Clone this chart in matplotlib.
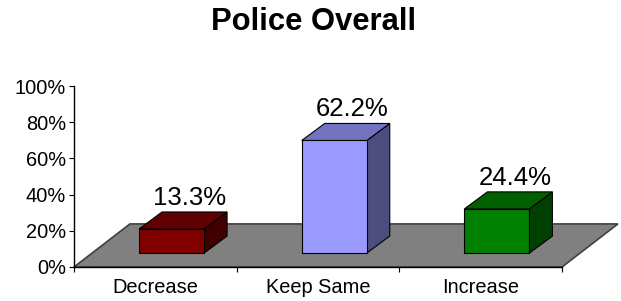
import numpy as np
import matplotlib.pyplot as plt
from matplotlib.patches import Polygon

# data
categories = ['Decrease', 'Keep Same', 'Increase']
values = [13.3, 62.2, 24.4]
labels = ['13.3%', '62.2%', '24.4%']
front_colors = ['#800000', '#9999ff', '#008000']
top_colors = ['#600000', '#7373bf', '#006000']
side_colors = ['#400000', '#4d4d80', '#004000']

plt.rcParams['font.family'] = ['Liberation Sans', 'DejaVu Sans']

fig = plt.figure(figsize=(6.21, 3.01), dpi=100)
ax = fig.add_axes([74/621, 34/301, 488/621, 181/301])
ax.set_xlim(0, 3)
ax.set_ylim(0, 100)

# 3d look: floor depth and bar depth (in data units)
floor_dx, floor_dy = 0.344, 23.8
bar_dx, bar_dy = 0.141, 9.4
base = 7.7
bar_w = 0.40
bar_off = 0.40

floor = Polygon([(0, 0), (3, 0), (3 + floor_dx, floor_dy), (floor_dx, floor_dy)],
                closed=True, facecolor='#808080', edgecolor='#404040', lw=1.2,
                clip_on=False, zorder=1)
ax.add_patch(floor)

for i, v in enumerate(values):
    x0 = i + bar_off
    x1 = x0 + bar_w
    y0 = base
    y1 = base + v
    side = Polygon([(x1, y0), (x1 + bar_dx, y0 + bar_dy), (x1 + bar_dx, y1 + bar_dy), (x1, y1)],
                   closed=True, facecolor=side_colors[i], edgecolor='black', lw=0.8,
                   clip_on=False, zorder=3)
    top = Polygon([(x0, y1), (x1, y1), (x1 + bar_dx, y1 + bar_dy), (x0 + bar_dx, y1 + bar_dy)],
                  closed=True, facecolor=top_colors[i], edgecolor='black', lw=0.8,
                  clip_on=False, zorder=3)
    front = Polygon([(x0, y0), (x1, y0), (x1, y1), (x0, y1)],
                    closed=True, facecolor=front_colors[i], edgecolor='black', lw=0.8,
                    clip_on=False, zorder=4)
    ax.add_patch(side)
    ax.add_patch(top)
    ax.add_patch(front)
    ax.text(x0 + bar_w / 2 + 0.11, y1 + bar_dy + 1.2, labels[i],
            ha='center', va='bottom', fontsize=18.5, color='black', zorder=5)

ax.spines['top'].set_visible(False)
ax.spines['right'].set_visible(False)
ax.spines['left'].set_linewidth(1.0)
ax.spines['bottom'].set_linewidth(1.0)
ax.spines['left'].set_zorder(6)
ax.spines['bottom'].set_zorder(6)

ax.set_yticks(np.arange(0, 101, 20))
ax.set_yticklabels([f'{t}%' for t in range(0, 101, 20)])
ax.tick_params(axis='y', direction='out', length=3.6, width=0.8, pad=2, labelsize=14.4)

ax.set_xticks([0, 1, 2, 3])
ax.set_xticklabels([])
ax.set_xticks([0.5, 1.5, 2.5], minor=True)
ax.set_xticklabels(categories, minor=True)
ax.tick_params(axis='x', which='major', direction='out', length=3.6, width=0.8)
ax.tick_params(axis='x', which='minor', length=0, pad=8, labelsize=14.4)

ax.patch.set_visible(False)
fig.text(314/621, 1 - 22/301, 'Police Overall', ha='center', va='center',
         fontsize=22.3, fontweight='bold')

fig.savefig('out.png', dpi=100)
